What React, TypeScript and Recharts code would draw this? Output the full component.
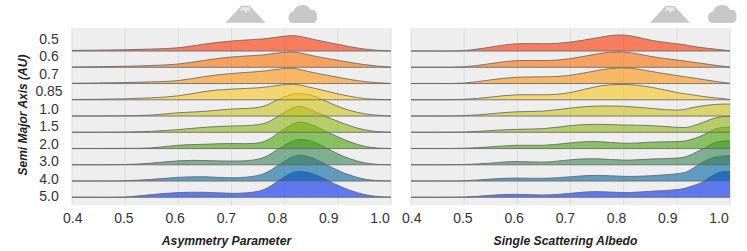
import React from 'react';
import { ComposedChart, Area, XAxis, YAxis, CartesianGrid } from 'recharts';

const rowLabels = ['0.5', '0.6', '0.7', '0.85', '1.0', '1.5', '2.0', '3.0', '4.0', '5.0'];
const colors = ['#ff3200', '#ff6e00', '#fd920a', '#fac41a', '#cbc314', '#8fb512', '#42a306', '#358353', '#0065a1', '#0029f1'];
const xTickValues = [0.4, 0.5, 0.6, 0.7, 0.8, 0.9, 1.0];

const asymX = [0.4, 0.45, 0.5, 0.55, 0.6, 0.65, 0.7, 0.75, 0.78, 0.81, 0.832, 0.86, 0.9, 0.95, 1.0];
const asym05 = [0.6, 0.9, 1.3, 2, 3.3, 7, 10, 11.8, 13.5, 15.3, 14.4, 11, 6.7, 2, 0.1];
const asym06 = [0.3, 0.6, 1, 1.8, 3.3, 7, 10.3, 12, 13.8, 15.3, 14, 10.8, 7, 2.7, 0.1];
const asym07 = [0.3, 0.6, 1, 1.7, 3, 7, 10, 12, 13.8, 15.3, 13.6, 10.3, 6.3, 2, 0.1];
const asym085 = [0.3, 0.5, 1, 2, 4, 8.3, 10.7, 12, 13.8, 15.5, 14.4, 11, 6, 1.3, 0.1];
const asym10 = [0.1, 0.1, 0.3, 1, 3.3, 4.7, 7, 8.6, 14.5, 21, 22.3, 19, 9.7, 2.3, 0.1];
const asym15 = [0.1, 0.1, 0.2, 1, 2.7, 5, 6.3, 7.6, 13.5, 23, 25.6, 20, 11, 2.5, 0.1];
const asym20 = [0.1, 0.1, 0.2, 0.7, 3.3, 4.3, 5, 5.6, 12.5, 23, 26.3, 21.7, 11.7, 2.3, 0.1];
const asym30 = [0.1, 0.1, 0.3, 1.7, 4, 4.3, 3.7, 5.6, 13, 22.5, 25.3, 21.7, 11, 2, 0.1];
const asym40 = [0.1, 0.1, 0.3, 1.7, 3.7, 4.3, 3.3, 5.6, 13, 23, 25.7, 21.3, 10.7, 2, 0.1];
const asym50 = [0.1, 0.1, 0.3, 2.7, 4.7, 5, 4, 6, 13.5, 23.5, 25.7, 22, 12, 2.8, 0.1];
const asymRows = [asym05, asym06, asym07, asym085, asym10, asym15, asym20, asym30, asym40, asym50];

const albX = [0.4, 0.45, 0.5, 0.55, 0.6, 0.65, 0.7, 0.75, 0.8, 0.85, 0.9, 0.925, 0.95, 0.975, 1.0];
const alb05 = [0.1, 0.1, 0.5, 4, 7.3, 7.3, 9, 13.3, 16, 11, 7.3, 5.3, 3.3, 1.7, 0.3];
const alb06 = [0.1, 0.1, 0.5, 3.7, 6.7, 6.7, 8.7, 13.3, 15.3, 11, 7.3, 5.5, 3.7, 1.8, 0.3];
const alb07 = [0.1, 0.1, 0.5, 3.7, 6.3, 6.7, 8.3, 13, 15.7, 12.3, 8, 6, 4, 2, 0.3];
const alb085 = [0.1, 0.1, 0.5, 2.7, 5, 5, 7.3, 13.3, 15.3, 12.7, 7.3, 5.3, 3.3, 1.8, 0.3];
const alb10 = [0.1, 0.1, 0.4, 2.3, 4.3, 5, 8, 10, 9.7, 7.7, 6, 8, 10.3, 11.7, 12];
const alb15 = [0.1, 0.1, 0.3, 1.7, 3, 3.7, 6.7, 8, 7.3, 6.7, 5, 5.6, 10, 14.7, 16.3];
const alb20 = [0.1, 0.1, 0.3, 1.7, 3.3, 3.3, 5.7, 7, 5.3, 6.3, 7, 8.7, 13.7, 20, 21.3];
const alb30 = [0.1, 0.1, 0.3, 1.7, 3.3, 2.7, 5, 6, 4.7, 5.7, 6.7, 9.7, 16.3, 22.7, 24];
const alb40 = [0.1, 0.1, 0.3, 2, 3, 2.7, 4.3, 5.7, 4.7, 5.3, 7.3, 11, 19.3, 24.3, 25.3];
const alb50 = [0.1, 0.1, 0.3, 2, 3, 2.3, 4, 5.7, 4.7, 6, 7.7, 10.7, 15.7, 24, 25.7];
const albRows = [alb05, alb06, alb07, alb085, alb10, alb15, alb20, alb30, alb40, alb50];

const ROW_STEP = 16.25;
const lastRow = rowLabels.length - 1;

function buildTable(xs: number[], rows: number[][]) {
  return xs.map((x, i) => {
    const row: Record<string, any> = { x };
    rows.forEach((vals, r) => {
      const base = (lastRow - r) * ROW_STEP;
      row['r' + r] = [base, base + vals[i]];
    });
    return row;
  });
}

const asymTable = buildTable(asymX, asymRows);
const albTable = buildTable(albX, albRows);

const FONT = '"Liberation Sans", Arial, sans-serif';
const labelTicks = rowLabels.map((_, i) => i);
const paintOrder = rowLabels.map((_, i) => lastRow - i);

function RowTick(props: any) {
  const { y, payload } = props;
  return (
    <text x={49} y={y} dy={5} textAnchor="middle" fontFamily={FONT} fontSize={14} fill="#333">
      {rowLabels[lastRow - payload.value]}
    </text>
  );
}

function Panel({ data, title, left, width, marginLeft, marginRight, showRows }: any) {
  return (
    <div style={{ position: 'absolute', left, top: 0 }}>
      <ComposedChart
        width={width}
        height={251}
        data={data}
        margin={{ top: 28, bottom: 0, left: marginLeft, right: marginRight }}
      >
        <CartesianGrid xAxisId="grid" yAxisId="ridge" horizontal={false} fill="#eeeeee" stroke="#dcdcdc" />
        <XAxis xAxisId="grid" type="number" dataKey="x" domain={[0.4, 1.0]} ticks={xTickValues} hide height={0} allowDataOverflow />
        <XAxis
          xAxisId="labels"
          type="number"
          dataKey="x"
          domain={[0.3986, 1.0214]}
          ticks={xTickValues}
          interval={0}
          height={46}
          axisLine={false}
          tickLine={false}
          tickMargin={2}
          tickFormatter={(v: number) => v.toFixed(1)}
          tick={{ fontFamily: FONT, fontSize: 14, fill: '#333' }}
          allowDataOverflow
          label={{
            value: title,
            position: 'insideBottom',
            offset: 6,
            dx: -5,
            style: { fontFamily: FONT, fontSize: 12.2, fontWeight: 'bold', fontStyle: 'italic', fill: '#222' },
          }}
        />
        <YAxis yAxisId="ridge" type="number" domain={[-7.7, 169.3]} hide width={0} allowDataOverflow />
        <YAxis
          yAxisId="labels"
          type="number"
          domain={[-0.516, 9.633]}
          ticks={labelTicks}
          interval={0}
          hide={!showRows}
          width={72}
          axisLine={false}
          tickLine={false}
          tick={<RowTick />}
          allowDataOverflow
          label={{
            value: 'Semi Major Axis (AU)',
            angle: -90,
            position: 'insideLeft',
            offset: 23,
            dy: 59,
            style: { fontFamily: FONT, fontSize: 12, fontWeight: 'bold', fontStyle: 'italic', fill: '#222' },
          }}
        />
        {paintOrder.map((r) => (
          <Area
            key={r}
            xAxisId="grid"
            yAxisId="ridge"
            dataKey={'r' + r}
            type="natural"
            fill={colors[r]}
            fillOpacity={0.6}
            stroke="#666"
            strokeOpacity={0.85}
            strokeWidth={1}
            dot={false}
            activeDot={false}
            isAnimationActive={false}
          />
        ))}
      </ComposedChart>
    </div>
  );
}

const MOUNTAIN = 'M0 18 L14 3 Q15 1 17 1 L23 1 Q25 1 26 3 L40 18 Z';
const CLOUD = 'M5 18 Q0 18 0 12.5 Q0 7.5 5 6.5 Q7 0 14 0 Q20 0 22 5 Q28 4 28.5 10 Q29 18 24 18 Z';

function Icons({ mx, cx }: { mx: number; cx: number }) {
  return (
    <>
      <g transform={`translate(${mx},4.7)`}>
        <path d={MOUNTAIN} fill="#c8c8c8" />
        <path d="M16 2.5 L24 2.5 L25 6 L22 5.5 L20.5 8.5 L18.5 5.5 L15 6.5 Z" fill="#e8e8e8" />
      </g>
      <g transform={`translate(${cx},5)`}>
        <path d={CLOUD} fill="#c8c8c8" />
      </g>
    </>
  );
}

export default function App() {
  return (
    <div style={{ position: 'absolute', left: 0, top: 0, width: 747, height: 251, background: '#fff', overflow: 'hidden' }}>
      <Panel data={asymTable} title="Asymmetry Parameter" left={0} width={400} marginLeft={0} marginRight={9} showRows />
      <Panel data={albTable} title="Single Scattering Albedo" left={400} width={347} marginLeft={11} marginRight={17} showRows={false} />
      <svg width={747} height={30} style={{ position: 'absolute', left: 0, top: 0 }}>
        <Icons mx={225.5} cx={288.5} />
        <Icons mx={650} cx={708} />
      </svg>
    </div>
  );
}
